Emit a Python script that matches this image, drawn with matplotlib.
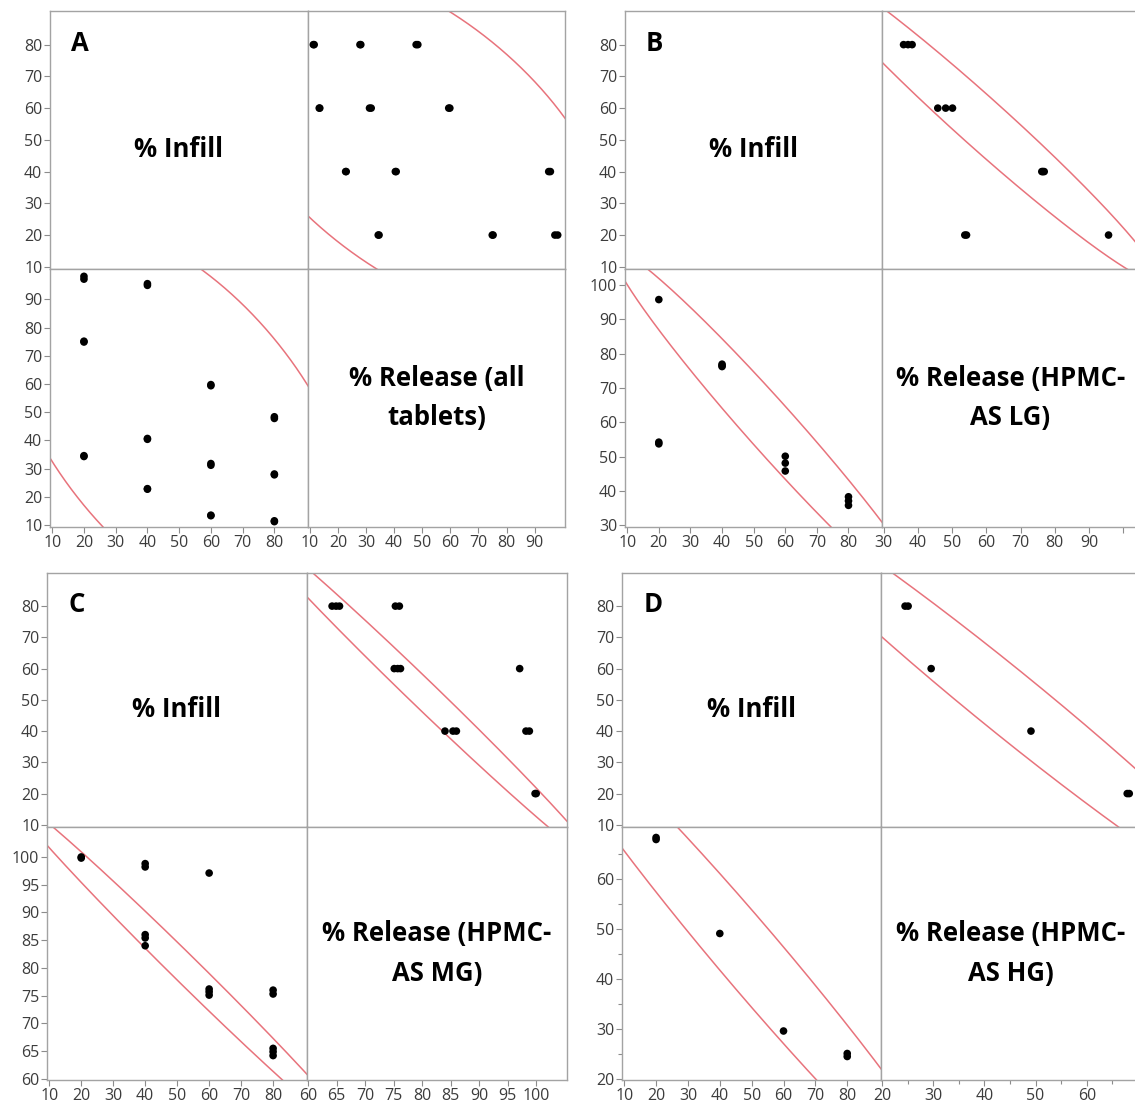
import numpy as np
import matplotlib.pyplot as plt

plt.rcParams['font.family'] = ['Open Sans', 'DejaVu Sans']

# % Infill / % Release pairs read off each scatterplot matrix
# excl_* = 1 marks rows shown but left out of the density ellipse fit
infill_a = [20, 20, 20, 20, 20, 20, 40, 40, 40, 40, 40, 40,
            60, 60, 60, 60, 60, 60, 80, 80, 80, 80, 80, 80]
release_a = [34.3, 34.6, 74.9, 75.2, 97.2, 98.2, 22.7, 22.9, 40.4, 40.7, 95.0, 95.6,
             13.3, 13.5, 31.2, 31.8, 59.4, 59.8, 11.2, 11.5, 27.8, 28.1, 47.8, 48.4]
excl_a = [0] * 24

infill_b = [20, 20, 20, 40, 40, 40, 60, 60, 60, 80, 80, 80]
release_b = [53.7, 54.2, 95.7, 76.2, 76.5, 76.9, 45.8, 48.1, 50.1, 35.8, 37.1, 38.3]
excl_b = [1, 1, 0, 0, 0, 0, 0, 0, 0, 0, 0, 0]

infill_c = [20, 20, 40, 40, 40, 40, 40, 60, 60, 60, 60, 80, 80, 80, 80, 80]
release_c = [99.8, 100.0, 98.2, 98.8, 84.0, 85.4, 86.0, 97.1, 75.1, 75.7, 76.2,
             64.2, 64.9, 65.5, 75.3, 76.0]
excl_c = [0, 0, 1, 1, 0, 0, 0, 1, 0, 0, 0, 0, 0, 0, 1, 1]

infill_d = [20, 20, 40, 60, 80, 80]
release_d = [67.9, 68.3, 49.1, 29.6, 24.5, 25.1]
excl_d = [0] * 6

letters = ['A', 'B', 'C', 'D']
release_names = ['% Release (all\ntablets)', '% Release (HPMC-\nAS LG)',
                 '% Release (HPMC-\nAS MG)', '% Release (HPMC-\nAS HG)']
infill_ticks = [10, 20, 30, 40, 50, 60, 70, 80]
release_ticks_a = [10, 20, 30, 40, 50, 60, 70, 80, 90]
release_ticks_b = [30, 40, 50, 60, 70, 80, 90, 100]
release_ticks_c = [60, 65, 70, 75, 80, 85, 90, 95, 100]
release_ticks_d = [20, 30, 40, 50, 60]

W, H = 1135, 1106
fig = plt.figure(figsize=(W / 100, H / 100), dpi=100)

GRAY = '#a3a3a3'
RED = '#e8737c'


def px_axes(x0, y0, x1, y1):
    ax = fig.add_axes([x0 / W, 1 - y1 / H, (x1 - x0) / W, (y1 - y0) / H])
    for s in ax.spines.values():
        s.set_color(GRAY)
        s.set_linewidth(1.0)
    ax.tick_params(direction='out', length=4, width=0.8, color='#8c8c8c',
                   labelcolor='#3c3c3c', labelsize=11.5, pad=1.5)
    return ax


def density_ellipse(x, y, excl, coverage=0.95, n=600):
    keep = np.asarray(excl) == 0
    x = np.asarray(x, float)[keep]
    y = np.asarray(y, float)[keep]
    L = np.linalg.cholesky(np.cov(x, y))
    r = np.sqrt(-2 * np.log(1 - coverage))
    t = np.linspace(0, 2 * np.pi, n)
    p = L @ np.vstack([np.cos(t), np.sin(t)]) * r
    return x.mean() + p[0], y.mean() + p[1]


def panel(box, letter, infill, release, excl, rel_lim, rel_ticks, rel_name,
          rel_xlabels=None, minor=None):
    x0, xm, x1, y0, ym, y1 = box
    inf_lim = (9.3, 90.6)
    ex, ey = density_ellipse(infill, release, excl)

    # top-left: name cell with infill y axis
    tl = px_axes(x0, y0, xm, ym)
    tl.set_ylim(inf_lim)
    tl.set_yticks(infill_ticks)
    tl.set_xticks([])
    tl.text(0.082, 0.845, letter, transform=tl.transAxes, fontsize=18.5,
            fontweight='bold', ha='left', va='baseline')
    tl.text(0.5, 0.435, '% Infill', transform=tl.transAxes, fontsize=18.5,
            fontweight='bold', ha='center', va='baseline')

    # top-right: release (x) vs infill (y)
    tr = px_axes(xm, y0, x1, ym)
    tr.plot(ey, ex, color=RED, lw=1.1)
    tr.scatter(release, infill, s=30, color='black', edgecolors='none', zorder=3)
    tr.set_xlim(rel_lim)
    tr.set_ylim(inf_lim)
    tr.set_xticks([])
    tr.set_yticks([])

    # bottom-left: infill (x) vs release (y)
    bl = px_axes(x0, ym, xm, y1)
    bl.plot(ex, ey, color=RED, lw=1.1)
    bl.scatter(infill, release, s=30, color='black', edgecolors='none', zorder=3)
    bl.set_xlim(inf_lim)
    bl.set_ylim(rel_lim)
    bl.set_xticks(infill_ticks)
    bl.set_yticks(rel_ticks)

    # bottom-right: name cell with release x axis
    br = px_axes(xm, ym, x1, y1)
    br.set_xlim(rel_lim)
    br.set_xticks(rel_ticks)
    if rel_xlabels is not None:
        br.set_xticklabels(rel_xlabels)
    br.set_yticks([])
    br.text(0.5, 0.5, rel_name, transform=br.transAxes, fontsize=18.5,
            fontweight='bold', ha='center', va='center', linespacing=1.6)

    if minor is not None:
        bl.set_yticks(minor, minor=True)
        br.set_xticks(minor, minor=True)
        bl.tick_params(which='minor', direction='out', length=3, width=0.8,
                       color='#8c8c8c')
        br.tick_params(which='minor', direction='out', length=3, width=0.8,
                       color='#8c8c8c')


panel((50, 308, 565, 11, 269, 527), letters[0], infill_a, release_a, excl_a,
      (9.3, 100.8), release_ticks_a, release_names[0])
panel((625, 882, 1139, 11, 269, 527), letters[1], infill_b, release_b, excl_b,
      (29.5, 104.6), release_ticks_b, release_names[1],
      rel_xlabels=['30', '40', '50', '60', '70', '80', '90', ''])
panel((47, 307, 567, 573, 827, 1080), letters[2], infill_c, release_c, excl_c,
      (59.8, 105.4), release_ticks_c, release_names[2])
panel((622, 881, 1140, 573, 827, 1080), letters[3], infill_d, release_d, excl_d,
      (19.8, 70.4), release_ticks_d, release_names[3],
      minor=[25, 35, 45, 55, 65])

fig.savefig('out.png', dpi=100)
